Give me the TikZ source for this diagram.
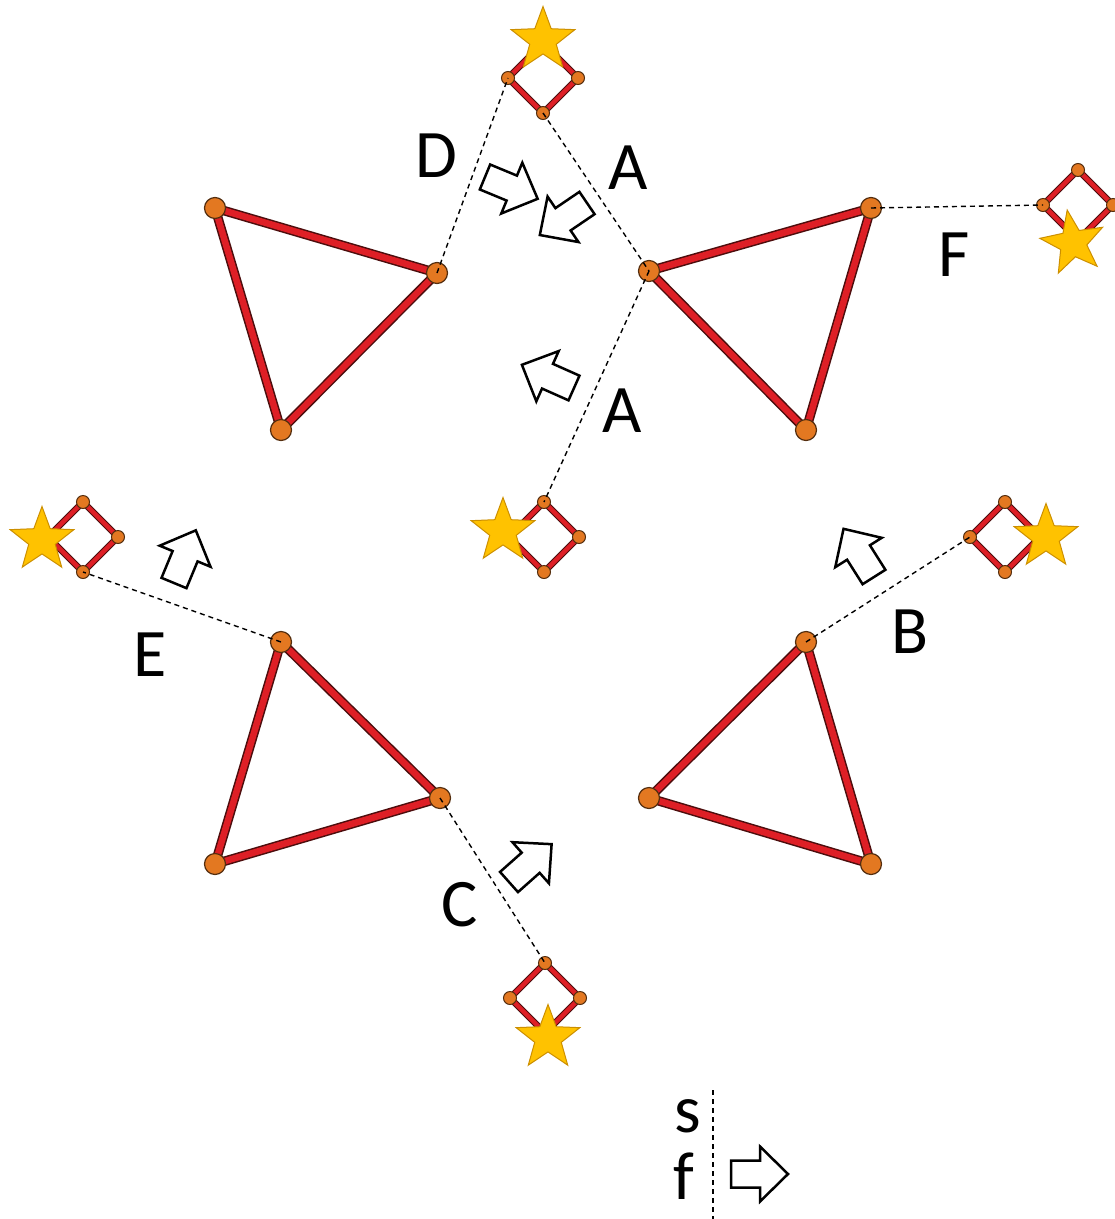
\documentclass[tikz,border=0pt]{standalone}
\usepackage{fontspec}
\setmainfont{Carlito}
\usetikzlibrary{shapes.geometric}

\newlength{\du}
\setlength{\du}{1pt}

\definecolor{barred}{rgb}{0.870000, 0.120000, 0.150000}
\definecolor{barline}{rgb}{0.300000, 0.050000, 0.050000}
\definecolor{dotfill}{rgb}{0.890000, 0.470000, 0.130000}
\definecolor{dotline}{rgb}{0.330000, 0.180000, 0.060000}
\definecolor{starfill}{rgb}{1.000000, 0.760000, 0.000000}
\definecolor{starline}{rgb}{0.800000, 0.560000, 0.000000}

\tikzset{
  bigbar/.style={draw=barred, line width=6.5\du, preaction={draw=barline, line width=9.5\du}},
  smallbar/.style={draw=barred, line width=4.5\du, preaction={draw=barline, line width=6.5\du}},
  bigdot/.style={circle, fill=dotfill, draw=dotline, line width=1.2\du, minimum size=21\du, inner sep=0},
  smalldot/.style={circle, fill=dotfill, draw=dotline, line width=1\du, minimum size=13\du, inner sep=0},
  link/.style={draw=black, line width=1.4\du, dash pattern=on 5\du off 4\du},
  starmark/.style={star, star points=5, star point ratio=2.4, fill=starfill, draw=starline, line width=1\du, minimum size=67\du, inner sep=0},
  letter/.style={font=\fontsize{68}{80}\selectfont, inner sep=0},
  blockarrow/.style={draw=black, fill=white, line width=2.5\du, line join=miter}
}

% hollow arrow: tail x, tail y, angle
\newcommand{\movearrow}[3]{%
  \begin{scope}[shift={(#1\du,#2\du)}, rotate=#3]
    \draw[blockarrow] (0\du,-13.5\du) -- (29\du,-13.5\du) -- (29\du,-27.5\du) -- (57\du,0\du)
      -- (29\du,27.5\du) -- (29\du,13.5\du) -- (0\du,13.5\du) -- cycle;
  \end{scope}}

\begin{document}
\begin{tikzpicture}
  \pgftransformyscale{-1.000000}
  \useasboundingbox (0\du,0\du) rectangle (1115\du,1219\du);

  % triangle top left
  \coordinate (p1) at (215\du,208\du);
  \coordinate (p2) at (437\du,273\du);
  \coordinate (p3) at (281\du,430\du);
  % triangle top right
  \coordinate (q1) at (649\du,271\du);
  \coordinate (q2) at (871\du,208\du);
  \coordinate (q3) at (806\du,430\du);
  % triangle bottom left
  \coordinate (r1) at (281\du,642\du);
  \coordinate (r2) at (440\du,798\du);
  \coordinate (r3) at (215\du,864\du);
  % triangle bottom right
  \coordinate (t1) at (806\du,642\du);
  \coordinate (t2) at (871\du,864\du);
  \coordinate (t3) at (649\du,798\du);

  \draw[bigbar] (p1) -- (p2) -- (p3) -- cycle;
  \draw[bigbar] (q1) -- (q2) -- (q3) -- cycle;
  \draw[bigbar] (r1) -- (r2) -- (r3) -- cycle;
  \draw[bigbar] (t1) -- (t2) -- (t3) -- cycle;
  \foreach \v in {p1,p2,p3,q1,q2,q3,r1,r2,r3,t1,t2,t3}
    \node[bigdot] at (\v) {};

  % small squares
  \foreach \s/\cx/\cy in {sa/543/78, sf/1078/205, sm/544/537, se/83/537, sb/1005/537, sc/545/998}{
    \coordinate (\s) at (\cx\du,\cy\du);
    \path (\s) +(0\du,-35\du) coordinate (\s-n) +(35\du,0\du) coordinate (\s-e)
               +(0\du,35\du) coordinate (\s-s) +(-35\du,0\du) coordinate (\s-w);
    \draw[smallbar] (\s-n) -- (\s-e) -- (\s-s) -- (\s-w) -- cycle;
    \foreach \v in {n,e,s,w}
      \node[smalldot] at (\s-\v) {};
  }

  % dashed links
  \draw[link] (p2) -- (sa-w);
  \draw[link] (sa-s) -- (q1);
  \draw[link] (q1) -- (sm-n);
  \draw[link] (q2) -- (sf-w);
  \draw[link] (r1) -- (se-s);
  \draw[link] (t1) -- (sb-w);
  \draw[link] (r2) -- (sc-n);

  % stars
  \node[starmark] (ka) at (543\du,40\du) {};
  \node[starmark, rotate=10] (kf) at (1073\du,243\du) {};
  \node[starmark] (km) at (503\du,531\du) {};
  \node[starmark] (ke) at (42\du,540\du) {};
  \node[starmark] (kb) at (1046\du,537\du) {};
  \node[starmark] (kc) at (548\du,1038\du) {};

  % hollow arrows
  \movearrow{485}{177}{22.5}
  \movearrow{587}{203}{145.8}
  \movearrow{574}{388}{204}
  \movearrow{174}{583}{-67.5}
  \movearrow{874}{577}{-122.3}
  \movearrow{509}{882}{-41.6}

  % setfont left to latex
  \node[letter] (ld) at (436\du,156\du) {D};
  \node[letter] (la1) at (628\du,168\du) {A};
  \node[letter] (lf) at (954\du,255\du) {F};
  \node[letter] (la2) at (622\du,411\du) {A};
  \node[letter] (le) at (150\du,655\du) {E};
  \node[letter] (lb) at (910\du,632\du) {B};
  \node[letter] (lc) at (460\du,905\du) {C};

  % legend
  \coordinate (ftop) at (713\du,1090\du);
  \coordinate (fbot) at (713\du,1219\du);
  \draw[link] (ftop) -- (fbot);
  \node[letter] (ls) at (688\du,1116\du) {s};
  \node[letter] (lff) at (684\du,1176\du) {f};
  \movearrow{731}{1174}{0}
\end{tikzpicture}
\end{document}
